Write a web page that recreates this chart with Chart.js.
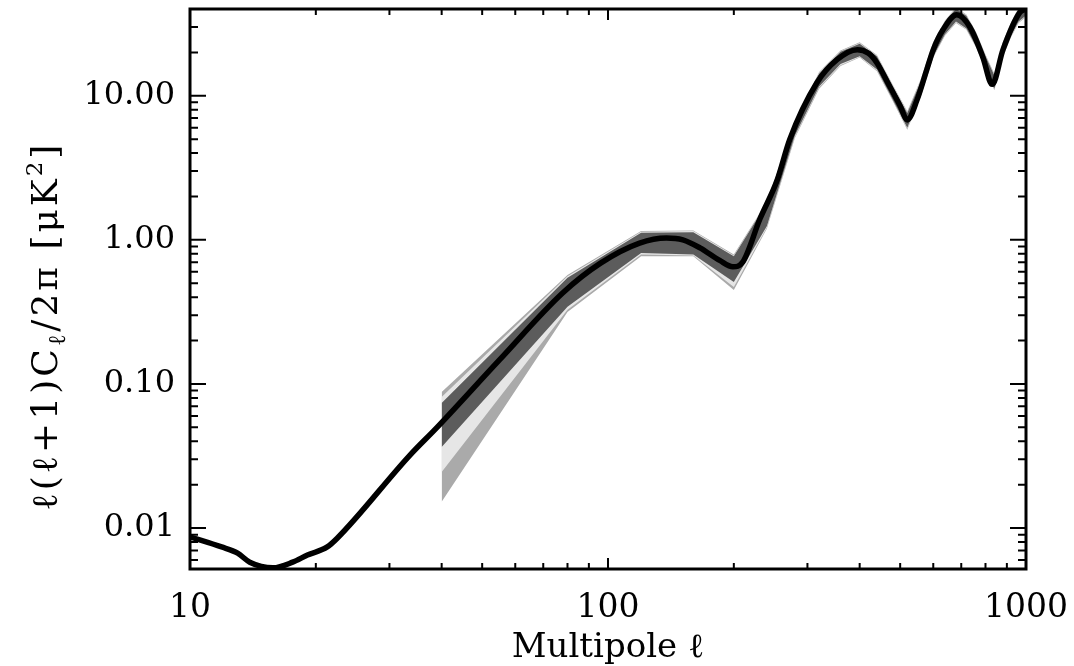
<!DOCTYPE html>
<html>
<head>
<meta charset="utf-8">
<script src="https://cdn.jsdelivr.net/npm/chart.js@4.4.0/dist/chart.umd.min.js"></script>
<style>
  html, body { margin: 0; padding: 0; background: #fff; }
  #wrap { width: 1074px; height: 666px; }
</style>
</head>
<body>
<div id="wrap"><canvas id="cl"></canvas></div>
<script>
// model spectrum (black line)
var modelEll = [10, 11.9, 13.0, 13.9, 15.8, 17.6, 19.1, 21.3, 22.5, 33.6, 39, 55, 78, 96, 119, 138, 151, 166, 185, 199, 210, 231, 254, 272, 316, 353, 395, 420, 440, 470, 500, 520, 549, 579, 600, 633, 683, 734, 788, 830, 881, 965, 1000];
var modelCl  = [0.0087, 0.0074, 0.0067, 0.0058, 0.0053, 0.0058, 0.0065, 0.0074, 0.0085, 0.0321, 0.050, 0.147, 0.43, 0.69, 0.95, 1.03, 1.00, 0.88, 0.72, 0.65, 0.70, 1.40, 2.6, 4.95, 12.3, 17.8, 20.9, 19.7, 16.9, 11.9, 8.5, 6.8, 9.4, 15.2, 20.9, 28.7, 36.5, 30, 18.6, 12.0, 20.9, 37.6, 40];

// binned error bands
var binEll  = [40, 80, 120, 160, 200, 240, 280, 320, 360, 400, 440, 480, 520, 560, 600, 640, 680, 720, 760, 800, 840, 880, 920, 960, 1000];
var darkLo  = [0.0365, 0.343, 0.81, 0.79, 0.51, 1.25, 5.3, 11.6, 16.6, 18.8, 15.2, 9.4, 6.0, 10.2, 18.8, 26.7, 32.8, 29.3, 22.0, 15.5, 11.2, 18.8, 26.0, 32.8, 36.0];
var darkHi  = [0.0738, 0.545, 1.12, 1.13, 0.77, 1.80, 6.5, 14.2, 20.2, 23.0, 18.8, 11.6, 7.6, 12.6, 23.0, 32.7, 40.2, 35.9, 27.0, 18.9, 13.8, 23.0, 31.7, 40.2, 44.0];
var lightLo = [0.0245, 0.327, 0.79, 0.78, 0.47, 1.22, 5.2, 11.4, 16.3, 18.6, 15.0, 9.3, 5.9, 10.0, 18.6, 26.4, 32.4, 29.0, 21.8, 15.3, 11.0, 18.6, 25.7, 32.4, 35.6];
var lightHi = [0.0813, 0.56, 1.14, 1.15, 0.78, 1.82, 6.6, 14.4, 20.4, 23.2, 19.0, 11.8, 7.7, 12.8, 23.3, 33.0, 40.6, 36.3, 27.3, 19.1, 14.0, 23.3, 32.0, 40.6, 44.4];
var midLo   = [0.0152, 0.316, 0.77, 0.77, 0.449, 1.20, 5.1, 11.2, 16.1, 18.4, 14.8, 9.2, 5.8, 9.9, 18.4, 26.1, 32.0, 28.7, 21.5, 15.1, 10.9, 18.4, 25.4, 32.0, 35.2];
var midHi   = [0.088, 0.571, 1.15, 1.16, 0.79, 1.84, 6.7, 14.6, 20.6, 23.5, 19.2, 11.9, 7.8, 13.0, 23.6, 33.3, 41.0, 36.7, 27.6, 19.3, 14.2, 23.6, 32.3, 41.0, 44.8];

var xTickVals = [10, 100, 1000];
var yTickVals = [0.01, 0.1, 1, 10];

var FONT = "'DejaVu Serif', serif";

function pts(xs, ys) {
  return xs.map(function(x, i) { return {x: x, y: ys[i]}; });
}

function band(data, color, fill) {
  return {
    data: data, borderWidth: 0, borderColor: color, backgroundColor: color,
    pointRadius: 0, fill: fill, tension: 0
  };
}

// IDL style frame with inward ticks on all four sides
var frameTicks = {
  id: 'frameTicks',
  afterDatasetsDraw: function(chart) {
    var ctx = chart.ctx, a = chart.chartArea;
    var xs = chart.scales.x, ys = chart.scales.y;
    ctx.save();
    ctx.strokeStyle = '#000';
    ctx.lineWidth = 2;
    ctx.beginPath();
    for (var d = 10; d < 1000; d *= 10) {
      for (var m = 1; m <= 9; m++) {
        var v = d * m;
        if (v <= 10 || v >= 1000) continue;
        var px = xs.getPixelForValue(v);
        var len = m === 1 ? 11 : 6;
        ctx.moveTo(px, a.bottom); ctx.lineTo(px, a.bottom - len);
        ctx.moveTo(px, a.top); ctx.lineTo(px, a.top + len);
      }
    }
    for (var e = 0.001; e < 100; e *= 10) {
      for (var k = 1; k <= 9; k++) {
        var w = e * k;
        if (w < ys.min || w > ys.max) continue;
        var py = ys.getPixelForValue(w);
        var l2 = k === 1 ? 16 : 8;
        ctx.moveTo(a.left, py); ctx.lineTo(a.left + l2, py);
        ctx.moveTo(a.right, py); ctx.lineTo(a.right - l2, py);
      }
    }
    ctx.stroke();
    ctx.lineWidth = 3;
    ctx.strokeRect(a.left, a.top, a.right - a.left, a.bottom - a.top);
    ctx.restore();
  },
  afterDraw: function(chart) {
    var ctx = chart.ctx, a = chart.chartArea;
    ctx.save();
    ctx.fillStyle = '#000';
    ctx.textBaseline = 'alphabetic';
    // x title
    ctx.font = '34px ' + FONT;
    ctx.textAlign = 'center';
    ctx.fillText('Multipole \u2113', (a.left + a.right) / 2, 657);

    // y title with sub/superscripts
    var parts = [
      {t: '\u2113(\u2113+1)C', s: 36, dy: 0},
      {t: '\u2113', s: 24, dy: 8},
      {t: '/2\u03C0 [\u03BCK', s: 36, dy: 0},
      {t: '2', s: 23, dy: -15},
      {t: ']', s: 36, dy: 0}
    ];
    var total = 0;
    ctx.letterSpacing = '3px';
    parts.forEach(function(p) { ctx.font = p.s + 'px ' + FONT; p.w = ctx.measureText(p.t).width; total += p.w; });
    ctx.translate(57, 326);
    ctx.rotate(-Math.PI / 2);
    ctx.textAlign = 'left';
    var cx = -total / 2;
    parts.forEach(function(p) {
      ctx.font = p.s + 'px ' + FONT;
      ctx.fillText(p.t, cx, p.dy);
      cx += p.w;
    });
    ctx.restore();
  }
};

new Chart(document.getElementById('cl'), {
  type: 'line',
  data: {
    datasets: [
      {
        data: pts(modelEll, modelCl), borderColor: '#000', borderWidth: 5.5,
        pointRadius: 0, fill: false, cubicInterpolationMode: 'monotone',
        borderJoinStyle: 'round', borderCapStyle: 'round'
      },
      band(pts(binEll, darkHi), '#5c5c5c', '+1'),
      band(pts(binEll, darkLo), '#5c5c5c', false),
      band(pts(binEll, lightHi), '#e6e6e6', '+1'),
      band(pts(binEll, lightLo), '#e6e6e6', false),
      band(pts(binEll, midHi), '#aaaaaa', '+1'),
      band(pts(binEll, midLo), '#aaaaaa', false)
    ]
  },
  options: {
    responsive: true,
    maintainAspectRatio: false,
    animation: false,
    devicePixelRatio: 1,
    layout: { padding: { top: 9, right: 48, left: 0, bottom: 0 } },
    plugins: { legend: { display: false }, tooltip: { enabled: false } },
    scales: {
      x: {
        type: 'logarithmic', min: 10, max: 1000,
        grid: { display: false, drawTicks: false }, border: { display: false },
        afterBuildTicks: function(s) { s.ticks = xTickVals.map(function(v) { return {value: v}; }); },
        afterFit: function(s) { s.height = 97; s.paddingLeft = 0; s.paddingRight = 0; },
        ticks: {
          font: { family: FONT, size: 33 }, color: '#000', padding: 20,
          maxRotation: 0, autoSkip: false,
          callback: function(v) { return String(v); }
        }
      },
      y: {
        type: 'logarithmic', min: 0.0052, max: 40,
        grid: { display: false, drawTicks: false }, border: { display: false },
        afterBuildTicks: function(s) { s.ticks = yTickVals.map(function(v) { return {value: v}; }); },
        afterFit: function(s) { s.width = 190; s.paddingTop = 0; s.paddingBottom = 0; },
        ticks: {
          font: { family: FONT, size: 32 }, color: '#000', padding: 15,
          autoSkip: false,
          callback: function(v) { return Number(v).toFixed(2); }
        }
      }
    }
  },
  plugins: [frameTicks]
});
</script>
</body>
</html>
